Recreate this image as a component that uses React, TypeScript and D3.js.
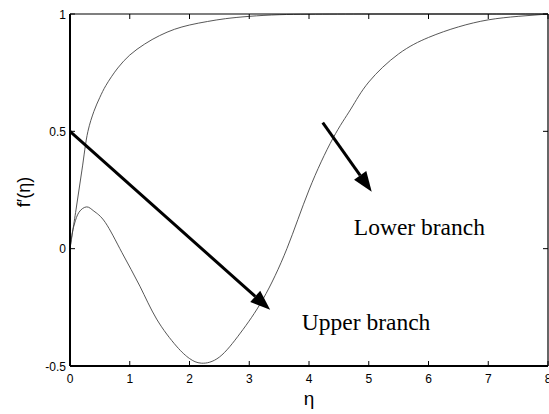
import React from "react";
import * as d3 from "d3";

const upperEta = [0, 0.1, 0.2, 0.3, 0.4, 0.5, 0.6, 0.8, 1.0, 1.25, 1.5, 1.75, 2.0, 2.3, 2.6, 3.0, 3.5, 4, 5, 6, 7, 8];
const upperF = [0, 0.165, 0.335, 0.5, 0.585, 0.645, 0.695, 0.77, 0.825, 0.872, 0.908, 0.935, 0.953, 0.968, 0.98, 0.99, 0.997, 0.999, 1, 1, 1, 1];

const lowerEta = [0, 0.04, 0.08, 0.15, 0.28, 0.4, 0.59, 0.87, 1.17, 1.45, 1.78, 2.0, 2.2, 2.5, 2.85, 3.23, 3.63, 4.0, 4.4, 4.7, 5.0, 5.5, 6.0, 6.5, 7.0, 7.5, 8];
const lowerF = [0, 0.07, 0.11, 0.155, 0.178, 0.16, 0.112, -0.017, -0.16, -0.3, -0.415, -0.468, -0.488, -0.462, -0.36, -0.215, 0, 0.25, 0.47, 0.595, 0.71, 0.83, 0.9, 0.945, 0.975, 0.99, 1.0];

const xTicks = [0, 1, 2, 3, 4, 5, 6, 7, 8];
const yTicks = [-0.5, 0, 0.5, 1];

// annotation arrows: [eta0, f0, eta1, f1]
const arrows = [
  [0, 0.5, 3.35, -0.26],
  [4.23, 0.537, 5.05, 0.243],
];
const labels = [
  { text: "Lower branch", eta: 4.75, f: 0.06 },
  { text: "Upper branch", eta: 3.88, f: -0.345 },
];

const W = 549, H = 414;
const M = { left: 70, right: 548, top: 14, bottom: 366 };

export default function App() {
  const x = d3.scaleLinear().domain([0, 8]).range([M.left, M.right]);
  const y = d3.scaleLinear().domain([-0.5, 1]).range([M.bottom, M.top]);
  const lineUp = d3
    .line<[number, number]>()
    .x((d) => x(d[0]))
    .y((d) => y(d[1]))
    .curve(d3.curveCatmullRom.alpha(0.5));
  const lineLo = d3
    .line<[number, number]>()
    .x((d) => x(d[0]))
    .y((d) => y(d[1]))
    .curve(d3.curveNatural);
  const up = lineUp(upperEta.map((e, i) => [e, upperF[i]] as [number, number]));
  const lo = lineLo(lowerEta.map((e, i) => [e, lowerF[i]] as [number, number]));
  const tickFont = "'Liberation Sans', Arial, sans-serif";

  return (
    <svg width={W} height={H} style={{ position: "absolute", left: 0, top: 0, background: "#fff" }}>
      <rect x={0} y={0} width={W} height={H} fill="#fff" />
      <path d={up || ""} fill="none" stroke="#444" strokeWidth={0.9} />
      <path d={lo || ""} fill="none" stroke="#444" strokeWidth={0.9} />
      {/* axes box */}
      <line x1={M.left} x2={M.right} y1={M.top} y2={M.top} stroke="#000" strokeWidth={1.2} />
      <line x1={M.right} x2={M.right} y1={M.top} y2={M.bottom} stroke="#000" strokeWidth={1.2} />
      <line x1={M.left} x2={M.right} y1={M.bottom} y2={M.bottom} stroke="#000" strokeWidth={1.8} />
      <line x1={M.left} x2={M.left} y1={M.top} y2={M.bottom} stroke="#000" strokeWidth={2} />
      {xTicks.map((t) => (
        <g key={"x" + t}>
          <line x1={x(t)} x2={x(t)} y1={M.bottom} y2={M.bottom - 5} stroke="#000" strokeWidth={1} />
          <line x1={x(t)} x2={x(t)} y1={M.top} y2={M.top + 5} stroke="#000" strokeWidth={1} />
          <text x={x(t)} y={M.bottom + 17} textAnchor="middle" fontFamily={tickFont} fontSize={12}>
            {t}
          </text>
        </g>
      ))}
      {yTicks.map((t) => (
        <g key={"y" + t}>
          <line x1={M.left} x2={M.left + 5} y1={y(t)} y2={y(t)} stroke="#000" strokeWidth={1} />
          <line x1={M.right} x2={M.right - 5} y1={y(t)} y2={y(t)} stroke="#000" strokeWidth={1} />
          <text x={M.left - 4} y={y(t) + 4.5} textAnchor="end" fontFamily={tickFont} fontSize={12}>
            {t}
          </text>
        </g>
      ))}
      {arrows.map((a, i) => {
        const x0 = x(a[0]), y0 = y(a[1]), x1 = x(a[2]), y1 = y(a[3]);
        const ang = Math.atan2(y1 - y0, x1 - x0);
        const L = 20, hw = 7.5;
        const bx = x1 - L * Math.cos(ang), by = y1 - L * Math.sin(ang);
        const px = -Math.sin(ang) * hw, py = Math.cos(ang) * hw;
        return (
          <g key={"a" + i}>
            <line x1={x0} y1={y0} x2={bx} y2={by} stroke="#000" strokeWidth={3} />
            <polygon points={`${x1},${y1} ${bx + px},${by + py} ${bx - px},${by - py}`} fill="#000" />
          </g>
        );
      })}
      {labels.map((l) => (
        <text key={l.text} x={x(l.eta)} y={y(l.f)} fontFamily="'Liberation Serif', 'Times New Roman', serif" fontSize={23.5}>
          {l.text}
        </text>
      ))}
      <text x={(M.left + M.right) / 2} y={405} textAnchor="middle" fontFamily={tickFont} fontSize={19}>
        η
      </text>
      <text
        transform={`translate(30, ${(M.top + M.bottom) / 2 + 2}) rotate(-90)`}
        textAnchor="middle"
        fontFamily={tickFont}
        fontSize={18}
      >
        f′(η)
      </text>
    </svg>
  );
}
